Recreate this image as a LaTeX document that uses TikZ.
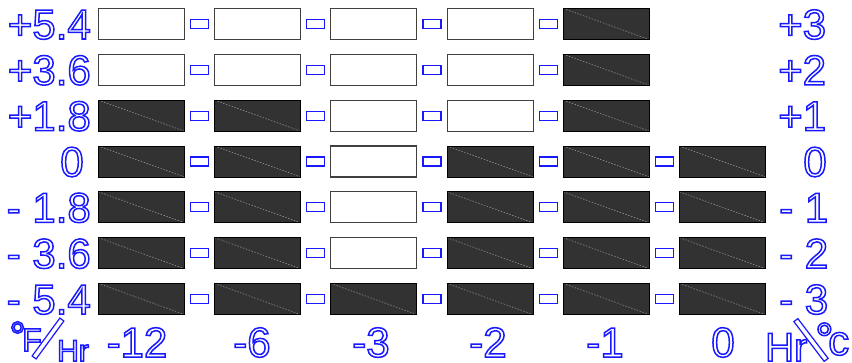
\documentclass[tikz,border=0pt]{standalone}
\usepackage{fontspec}
\setmainfont{Liberation Sans}
\definecolor{lblue}{RGB}{25,25,255}
\definecolor{darkcell}{RGB}{50,50,50}
\newcommand\olab[1]{\special{pdf:literal direct 1 Tr 1.5 w}#1\special{pdf:literal direct 0 Tr}}
\tikzset{
 cellW/.style={draw=black!75, line width=1.1pt, fill=white, minimum width=86, minimum height=31, inner sep=0pt},
 cellD/.style={draw=black, line width=1pt, fill=darkcell, minimum width=86, minimum height=31, inner sep=0pt,
   path picture={\draw[gray!75, line width=0.5pt, dash pattern=on 1.5pt off 1.5pt] (path picture bounding box.north west) -- (path picture bounding box.south east);}},
 link/.style={draw=lblue, line width=1.1pt, fill=white, minimum width=18, minimum height=9, inner sep=0pt},
 lab/.style={text=lblue, inner sep=0pt, font=\fontsize{42}{42}\selectfont},
 labs/.style={text=lblue, inner sep=0pt, font=\fontsize{#1}{#1}\selectfont},
 bar/.style={draw=lblue, line width=1.2pt, fill=white, inner sep=0pt, minimum height=5},
}
\begin{document}
\begin{tikzpicture}[x=1pt,y=-1pt]
\useasboundingbox (0,0) rectangle (852,362);
% row 0
\foreach \c/\t in {0/cellW,1/cellW,2/cellW,3/cellW,4/cellD}
  \node[\t] (r0c\c) at ({141.5+116.2*\c},24) {};
\foreach \c in {0,...,3} \node[link] (s0c\c) at ({199.6+116.2*\c},24) {};
% row 1
\foreach \c/\t in {0/cellW,1/cellW,2/cellW,3/cellW,4/cellD}
  \node[\t] (r1c\c) at ({141.5+116.2*\c},69.8) {};
\foreach \c in {0,...,3} \node[link] (s1c\c) at ({199.6+116.2*\c},69.8) {};
% row 2
\foreach \c/\t in {0/cellD,1/cellD,2/cellW,3/cellW,4/cellD}
  \node[\t] (r2c\c) at ({141.5+116.2*\c},115.7) {};
\foreach \c in {0,...,3} \node[link] (s2c\c) at ({199.6+116.2*\c},115.7) {};
% row 3
\foreach \c/\t in {0/cellD,1/cellD,2/cellW,3/cellD,4/cellD,5/cellD}
  \node[\t] (r3c\c) at ({141.5+116.2*\c},161.5) {};
\foreach \c in {0,...,4} \node[link] (s3c\c) at ({199.6+116.2*\c},161.5) {};
% row 4
\foreach \c/\t in {0/cellD,1/cellD,2/cellW,3/cellD,4/cellD,5/cellD}
  \node[\t] (r4c\c) at ({141.5+116.2*\c},207.3) {};
\foreach \c in {0,...,4} \node[link] (s4c\c) at ({199.6+116.2*\c},207.3) {};
% row 5
\foreach \c/\t in {0/cellD,1/cellD,2/cellW,3/cellD,4/cellD,5/cellD}
  \node[\t] (r5c\c) at ({141.5+116.2*\c},253.2) {};
\foreach \c in {0,...,4} \node[link] (s5c\c) at ({199.6+116.2*\c},253.2) {};
% row 6
\foreach \c/\t in {0/cellD,1/cellD,2/cellD,3/cellD,4/cellD,5/cellD}
  \node[\t] (r6c\c) at ({141.5+116.2*\c},299) {};
\foreach \c in {0,...,4} \node[link] (s6c\c) at ({199.6+116.2*\c},299) {};
% left labels
\node[lab, anchor=base east] (L0) at (91,39) {\olab{+5.4}};
\node[lab, anchor=base east] (L1) at (91,84.8) {\olab{+3.6}};
\node[lab, anchor=base east] (L2) at (91,130.7) {\olab{+1.8}};
\node[lab, anchor=base] (L3) at (72,176.5) {\olab{0}};
\node[lab, anchor=base east] (L4) at (91,222.3) {\olab{- 1.8}};
\node[lab, anchor=base east] (L5) at (91,268.2) {\olab{- 3.6}};
\node[lab, anchor=base east] (L6) at (91,314) {\olab{- 5.4}};
% right labels
\node[lab, anchor=base west] (R0) at (778,39) {\olab{+3}};
\node[lab, anchor=base west] (R1) at (778,84.8) {\olab{+2}};
\node[lab, anchor=base west] (R2) at (778,130.7) {\olab{+1}};
\node[lab, anchor=base] (R3) at (815,176.5) {\olab{0}};
\node[lab, anchor=base west] (R4) at (779,222.3) {\olab{- 1}};
\node[lab, anchor=base west] (R5) at (779,268.2) {\olab{- 2}};
\node[lab, anchor=base west] (R6) at (779,314) {\olab{- 3}};
% bottom labels
\node[lab, anchor=base] (B0) at (137,357) {\olab{-12}};
\node[lab, anchor=base] (B1) at (252,357) {\olab{-6}};
\node[lab, anchor=base] (B2) at (371,357) {\olab{-3}};
\node[lab, anchor=base] (B3) at (488,357) {\olab{-2}};
\node[lab, anchor=base] (B4) at (605,357) {\olab{-1}};
\node[lab, anchor=base] (B5) at (723,357) {\olab{0}};
% unit left
\node[labs=42, anchor=base west] (degL) at (9,351) {\olab{°}};
\node[labs=32, anchor=base west] (FL) at (22,351) {\olab{F}};
\node[bar, minimum width=47, rotate=53.8] (slashL) at (48,338.5) {};
\node[labs=30, anchor=base west] (HrL) at (57,361) {\olab{Hr}};
% unit right
\node[labs=40, anchor=base west] (HrR) at (765,361) {\olab{Hr}};
\node[bar, minimum width=50, rotate=-52.7] (slashR) at (811,340) {};
\node[labs=46, anchor=base west] (degR) at (815,355) {\olab{°}};
\node[labs=42, anchor=base west] (cR) at (828,355) {\olab{c}};
\end{tikzpicture}
\end{document}
